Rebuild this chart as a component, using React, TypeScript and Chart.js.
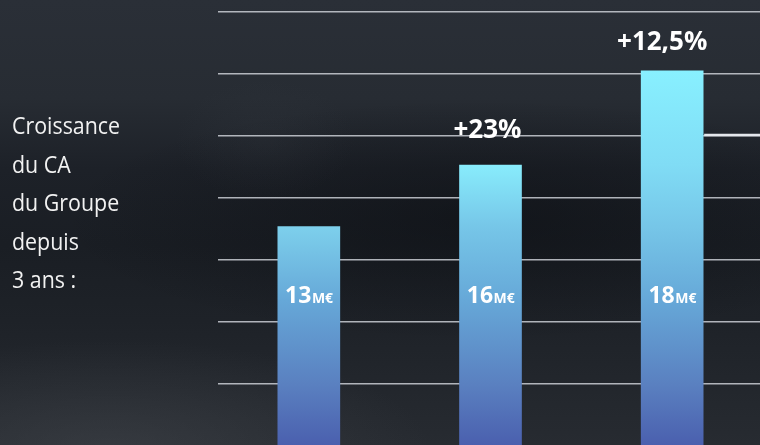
import React, { useEffect, useRef } from "react";
import { Chart, registerables } from "chart.js";

Chart.register(...registerables);

// ---------- data ----------
const categories = ["Année 1", "Année 2", "Année 3"];
const barHeights = [3.54, 4.53, 6.05]; // bar height in grid units
const revenueLabels = ["13", "16", "18"];
const unitLabel = "M€";
const growthLabels = ["", "+23%", "+12,5%"];
const gridMax = 7;
const introLines = ["Croissance", "du CA", "du Groupe", "depuis", "3 ans :"];
const highlightGridValue = 5;
const innerLabelValue = 2.31;

// ---------- styles ----------
const FONT = "'Open Sans', 'Noto Sans', sans-serif";
const TOP_COLORS = ["#7dd0ec", "#88ecfc", "#88f0ff"];
const BAR_STOPS: [number, string][] = [
  [0.3525, "#80dcf5"],
  [0.495, "#76c6e8"],
  [0.664, "#66a8d8"],
  [0.859, "#5a80c0"],
  [1.0, "#4a5fae"],
];
const GROWTH_OFFSETS: [number, number][] = [
  [0, 0],
  [-3, 27],
  [-10, 20.5],
];

const labelPlugin = {
  id: "barLabels",
  afterDatasetsDraw(chart: any) {
    const ctx = chart.ctx as CanvasRenderingContext2D;
    const ys = chart.scales.y;
    const area = chart.chartArea;
    const meta = chart.getDatasetMeta(0);
    ctx.save();
    ctx.fillStyle = "#ffffff";
    ctx.textBaseline = "alphabetic";
    meta.data.forEach((bar: any, i: number) => {
      const p = bar.getProps(["x", "y", "width"], true);
      // inner label
      const by = ys.getPixelForValue(innerLabelValue);
      ctx.font = `bold 23px ${FONT}`;
      const w1 = ctx.measureText(revenueLabels[i]).width;
      ctx.font = `bold 14px ${FONT}`;
      const w2 = ctx.measureText(unitLabel).width;
      const start = p.x - (w1 + w2) / 2;
      ctx.textAlign = "left";
      ctx.font = `bold 23px ${FONT}`;
      ctx.fillText(revenueLabels[i], start, by);
      ctx.font = `bold 14px ${FONT}`;
      ctx.fillText(unitLabel, start + w1 + 0.5, by);
      // growth label
      if (growthLabels[i]) {
        const [dx, dy] = GROWTH_OFFSETS[i];
        ctx.font = `bold 26px ${FONT}`;
        ctx.textAlign = "center";
        ctx.fillText(growthLabels[i], p.x + dx, p.y - dy);
      }
    });
    // bright segment right of last bar
    const last = meta.data[meta.data.length - 1];
    if (last) {
      const p = last.getProps(["x", "width"], true);
      const ly = ys.getPixelForValue(highlightGridValue) - 1;
      ctx.strokeStyle = "#e4e7ec";
      ctx.lineWidth = 2.5;
      ctx.beginPath();
      ctx.moveTo(p.x + p.width / 2 + 1, ly);
      ctx.lineTo(area.right, ly);
      ctx.stroke();
    }
    ctx.restore();
  },
};

export default function App() {
  const ref = useRef<HTMLCanvasElement | null>(null);

  useEffect(() => {
    if (!ref.current) return;
    const chart = new Chart(ref.current, {
      type: "bar",
      data: {
        labels: categories,
        datasets: [
          {
            data: barHeights,
            barThickness: 62,
            borderWidth: 0,
            backgroundColor: (c: any) => {
              const ch = c.chart;
              const area = ch.chartArea;
              if (!area || c.type !== "data") return TOP_COLORS[0];
              const ys = ch.scales.y;
              const top = ys.getPixelForValue(c.parsed.y);
              const bottom = area.bottom;
              const g = ch.ctx.createLinearGradient(0, top, 0, bottom);
              g.addColorStop(0, TOP_COLORS[c.dataIndex] || TOP_COLORS[0]);
              for (const [f, col] of BAR_STOPS) {
                const yy = area.top + f * (area.bottom - area.top);
                const t = (yy - top) / (bottom - top);
                if (t > 0.12 && t <= 1) g.addColorStop(t, col);
              }
              return g;
            },
          },
        ],
      },
      options: {
        animation: false,
        responsive: false,
        maintainAspectRatio: false,
        layout: { padding: { left: 218, right: 1, top: 12, bottom: 4 } },
        plugins: {
          legend: { display: false },
          tooltip: { enabled: false },
        },
        scales: {
          x: { display: false, offset: true },
          y: {
            min: 0,
            max: gridMax,
            ticks: { stepSize: 1, display: false },
            grid: { color: "rgba(214,218,224,0.8)", lineWidth: 1.5, drawTicks: false },
            border: { display: false },
            afterFit: (s: any) => {
              s.width = 0;
            },
          },
        },
      },
      plugins: [labelPlugin],
    });
    return () => chart.destroy();
  }, []);

  return (
    <div
      style={{
        position: "fixed",
        left: 0,
        top: 0,
        width: 760,
        height: 445,
        overflow: "hidden",
        background:
          "radial-gradient(ellipse 320px 110px at 110px 450px, rgba(72,76,82,0.45), rgba(72,76,82,0) 100%)," +
          "radial-gradient(ellipse 90px 60px at 265px 140px, rgba(60,65,72,0.18), rgba(60,65,72,0) 100%)," +
          "radial-gradient(ellipse 420px 120px at 480px 220px, rgba(8,10,14,0.45), rgba(8,10,14,0) 100%)," +
          "linear-gradient(180deg, #2a2f37 0%, #272c33 22%, #1d2128 38%, #1a1e24 55%, #1e2228 72%, #23272d 88%, #272b31 100%)",
      }}
    >
      <canvas
        ref={ref}
        width={764}
        height={450}
        style={{ display: "block", width: 764, height: 450 }}
      />
      <div
        style={{
          position: "absolute",
          left: 12,
          top: 106,
          fontFamily: FONT,
          fontSize: 23,
          lineHeight: "38.5px",
          color: "#f2f2f2",
          transform: "scaleX(0.93)",
          transformOrigin: "left top",
          whiteSpace: "nowrap",
        }}
      >
        {introLines.map((l, i) => (
          <div key={i}>{l}</div>
        ))}
      </div>
    </div>
  );
}
